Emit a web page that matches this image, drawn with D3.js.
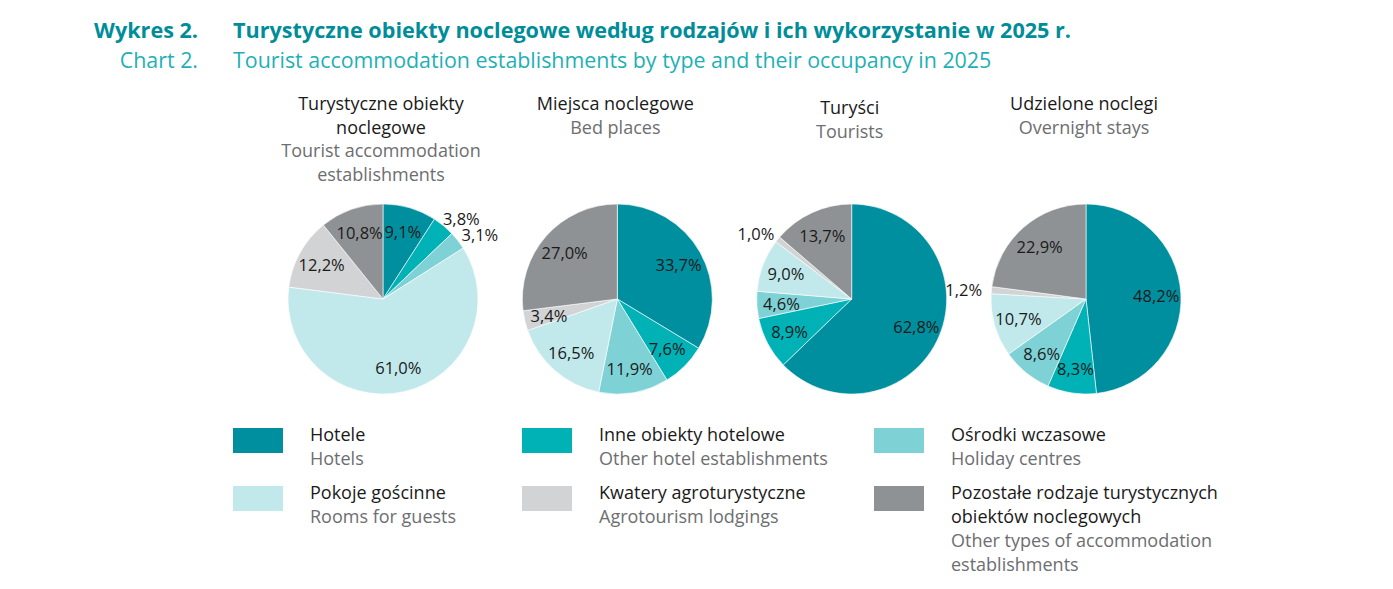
<!DOCTYPE html>
<html>
<head>
<meta charset="utf-8">
<script src="https://cdn.jsdelivr.net/npm/d3@7"></script>
<style>
  html, body { margin: 0; padding: 0; background: #fff; }
  svg { display: block; }
  text { font-family: "Open Sans", "Noto Sans", sans-serif; }
</style>
</head>
<body>
<svg id="chart" width="1393" height="589"></svg>
<script>
// ---------------- DATA ----------------
const titleLabelPL = "Wykres 2.";
const titleLabelEN = "Chart 2.";
const titlePL = "Turystyczne obiekty noclegowe według rodzajów i ich wykorzystanie w 2025 r.";
const titleEN = "Tourist accommodation establishments by type and their occupancy in 2025";

const categoriesPL = [
  ["Hotele"],
  ["Inne obiekty hotelowe"],
  ["Ośrodki wczasowe"],
  ["Pokoje gościnne"],
  ["Kwatery agroturystyczne"],
  ["Pozostałe rodzaje turystycznych", "obiektów noclegowych"]
];
const categoriesEN = [
  ["Hotels"],
  ["Other hotel establishments"],
  ["Holiday centres"],
  ["Rooms for guests"],
  ["Agrotourism lodgings"],
  ["Other types of accommodation", "establishments"]
];

const pieTitlesPL = [["Turystyczne obiekty", "noclegowe"], ["Miejsca noclegowe"], ["Turyści"], ["Udzielone noclegi"]];
const pieTitlesEN = [["Tourist accommodation", "establishments"], ["Bed places"], ["Tourists"], ["Overnight stays"]];

const establishments  = [9.1, 3.8, 3.1, 61.0, 12.2, 10.8];
const bedPlaces       = [33.7, 7.6, 11.9, 16.5, 3.4, 27.0];
const tourists        = [62.8, 8.9, 4.6, 9.0, 1.0, 13.7];
const overnightStays  = [48.2, 8.3, 8.6, 10.7, 1.2, 22.9];

// indices of slices whose labels sit outside the pie
const outsideLabels = [[1, 2], [], [4], [4]];

const colors = ["#008f9e", "#00b1b6", "#7ed2d5", "#c1e9eb", "#d1d3d4", "#8f9295"];

// ---------------- DRAWING ----------------
const series = [establishments, bedPlaces, tourists, overnightStays];
const svg = d3.select("#chart");

function txt(g, x, y, s, opts) {
  const t = g.append("text")
    .attr("x", x).attr("y", y)
    .attr("text-anchor", opts.anchor || "start")
    .attr("font-size", opts.size)
    .attr("font-weight", opts.weight || 400)
    .attr("fill", opts.fill || "#1a1a1a")
    .text(s);
  if (opts.baseline) t.attr("dominant-baseline", opts.baseline);
  return t;
}

// Titles
const head = svg.append("g");
txt(head, 198, 38, titleLabelPL, {anchor: "end", size: 21.6, weight: 700, fill: "#008d9a"});
txt(head, 233, 38, titlePL, {size: 21.6, weight: 700, fill: "#008d9a"});
txt(head, 198, 68, titleLabelEN, {anchor: "end", size: 21.4, fill: "#1eb0b6"});
txt(head, 233, 68, titleEN, {size: 21.4, fill: "#1eb0b6"});

// Pies
const R = 95;
const cx = d3.scalePoint().domain(d3.range(series.length)).range([383, 1086]);
const cy = 299;
const pie = d3.pie().sort(null).value(d => d);
const arc = d3.arc().innerRadius(0).outerRadius(R);
const inLabel = d3.arc().innerRadius(R * 0.74).outerRadius(R * 0.74);
const outLabel = d3.arc().innerRadius(R * 1.1).outerRadius(R * 1.1);
const fmt = v => d3.format(".1f")(v).replace(".", ",") + "%";

series.forEach((vals, i) => {
  const g = svg.append("g").attr("transform", `translate(${cx(i)},${cy})`);
  const arcs = pie(vals);
  g.selectAll("path").data(arcs).join("path")
    .attr("d", arc)
    .attr("fill", (d, j) => colors[j])
    .attr("stroke", "#ffffff")
    .attr("stroke-width", 0.6);
  arcs.forEach((a, j) => {
    const outside = outsideLabels[i].includes(j);
    const p = outside ? outLabel.centroid(a) : inLabel.centroid(a);
    const t = txt(g, p[0], p[1], fmt(a.data), {anchor: "middle", size: 16.5, baseline: "central", fill: "#1a1a1a"});
    if (outside) {
      // push the label outward horizontally so it clears the pie edge
      const mid = (a.startAngle + a.endAngle) / 2;
      const w = t.node().getComputedTextLength();
      t.attr("x", p[0] + Math.sin(mid) * w / 2);
    }
  });

  // pie titles
  const tg = svg.append("g");
  const baseY = i === 2 ? 114 : 110;
  const lines = pieTitlesPL[i].map(s => ({s, fill: "#1a1a1a"}))
    .concat(pieTitlesEN[i].map(s => ({s, fill: "#6d6e71"})));
  lines.forEach((l, k) => {
    txt(tg, cx(i) - 2, baseY + k * 23.5, l.s, {anchor: "middle", size: 18, fill: l.fill});
  });
});

// Legend
const legCols = [233, 522, 874];
const legRows = [428, 486];
const lg = svg.append("g");
categoriesPL.forEach((pl, j) => {
  const x = legCols[j % 3], y = legRows[Math.floor(j / 3)];
  lg.append("rect").attr("x", x).attr("y", y).attr("width", 50).attr("height", 25).attr("fill", colors[j]);
  const lines = pl.map(s => ({s, fill: "#1a1a1a"}))
    .concat(categoriesEN[j].map(s => ({s, fill: "#6d6e71"})));
  lines.forEach((l, k) => {
    txt(lg, x + 77, y + 13 + k * 24, l.s, {size: 18, fill: l.fill});
  });
});
</script>
</body>
</html>
